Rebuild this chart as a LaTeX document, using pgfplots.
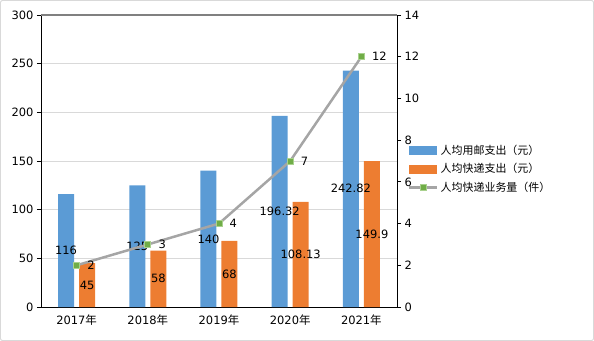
\documentclass[border=0pt]{standalone}
\usepackage{pgfplots}
\pgfplotsset{compat=1.18}
\usepackage{fontspec}
\setmainfont{DejaVu Sans}
\newfontfamily\cjk{Noto Sans CJK SC}
\definecolor{cblue}{HTML}{5B9BD5}
\definecolor{corange}{HTML}{ED7D31}
\definecolor{cgray}{HTML}{A5A5A5}
\definecolor{cgreen}{HTML}{70AD47}
\definecolor{cgreenl}{HTML}{A9D18E}
\definecolor{cgrid}{HTML}{D9D9D9}
\pgfplotsset{
  linelegend/.style={legend image code/.code={\draw[mark repeat=2, mark phase=2, ##1] plot coordinates {(0bp,0bp) (14bp,0bp) (28bp,0bp)};}},
  base/.style={
    scale only axis, width=356bp, height=292bp,
    xmin=-0.5, xmax=4.5,
    /pgf/number format/assume math mode=true,
    tick label style={font=\fontsize{11.5}{13}\selectfont},
    tick align=outside, major tick length=4bp,
    axis line style={black, line width=0.8bp},
    tick style={black, line width=0.8bp},
  },
}
\begin{document}
\begin{tikzpicture}
\path[use as bounding box] (-41bp,-34bp) rectangle (553bp,307bp);
\draw[cgrid, line width=1bp, rounded corners=2bp] (-40.5bp,-33.5bp) rectangle (552.5bp,306.5bp);
\begin{axis}[base,
  ymin=0, ymax=300, ytick={0,50,...,300},
  xtick={0,1,2,3,4},
  xticklabels={2017{\cjk 年},2018{\cjk 年},2019{\cjk 年},2020{\cjk 年},2021{\cjk 年}},
  xtick style={draw=none},
  axis y line*=left, axis x line*=bottom,
  ymajorgrids, grid style={cgrid, line width=0.8bp},
  nodes near coords style={font=\fontsize{11.5}{13}\selectfont, anchor=center},
]
\addplot[ybar, bar width=16bp, bar shift=-10.5bp, fill=cblue, draw=none]
  coordinates {(0,116) (1,125) (2,140) (3,196.32) (4,242.82)};
\addplot[ybar, bar width=16bp, bar shift=10.5bp, fill=corange, draw=none]
  coordinates {(0,45) (1,58) (2,68) (3,108.13) (4,149.9)};
\addplot[draw=none, mark=none, nodes near coords, point meta=explicit symbolic,
  every node near coord/.append style={xshift=-10.5bp}]
  coordinates {(0,58)[116] (1,62.5)[125] (2,70)[140] (3,98.16)[196.32] (4,121.41)[242.82]};
\addplot[draw=none, mark=none, nodes near coords, point meta=explicit symbolic,
  every node near coord/.append style={xshift=10.5bp}]
  coordinates {(0,22.5)[45] (1,29)[58] (2,34)[68] (3,54.065)[108.13] (4,74.95)[149.9]};
\draw[gray, line width=1.2bp] (rel axis cs:0,1) -- (rel axis cs:1,1);
\end{axis}
\begin{axis}[base,
  ymin=0, ymax=14, ytick={0,2,...,14},
  axis y line*=right, axis x line=none,
  legend style={at={(1.031,0.4726)}, anchor=west, draw=none, fill=none,
    inner sep=0pt, row sep=3.5bp,
    font=\cjk\fontsize{11}{13}\selectfont,
    nodes={inner xsep=2bp}},
  legend cell align=left,
]
\addlegendimage{legend image code/.code={\fill[cblue] (0bp,-4bp) rectangle (27bp,4bp);}}
\addlegendentry{人均用邮支出（元）}
\addlegendimage{legend image code/.code={\fill[corange] (0bp,-4bp) rectangle (27bp,4bp);}}
\addlegendentry{人均快递支出（元）}
\addplot[cgray, line width=2.5bp, mark=square*, mark size=3bp,
  mark options={fill=cgreen, draw=cgreenl, line width=0.8bp},
  nodes near coords,
  nodes near coords style={font=\fontsize{11.5}{13}\selectfont, anchor=west, xshift=7bp, text=black},
  linelegend]
  coordinates {(0,2) (1,3) (2,4) (3,7) (4,12)};
\addlegendentry{人均快递业务量（件）}
\end{axis}
\end{tikzpicture}
\end{document}
